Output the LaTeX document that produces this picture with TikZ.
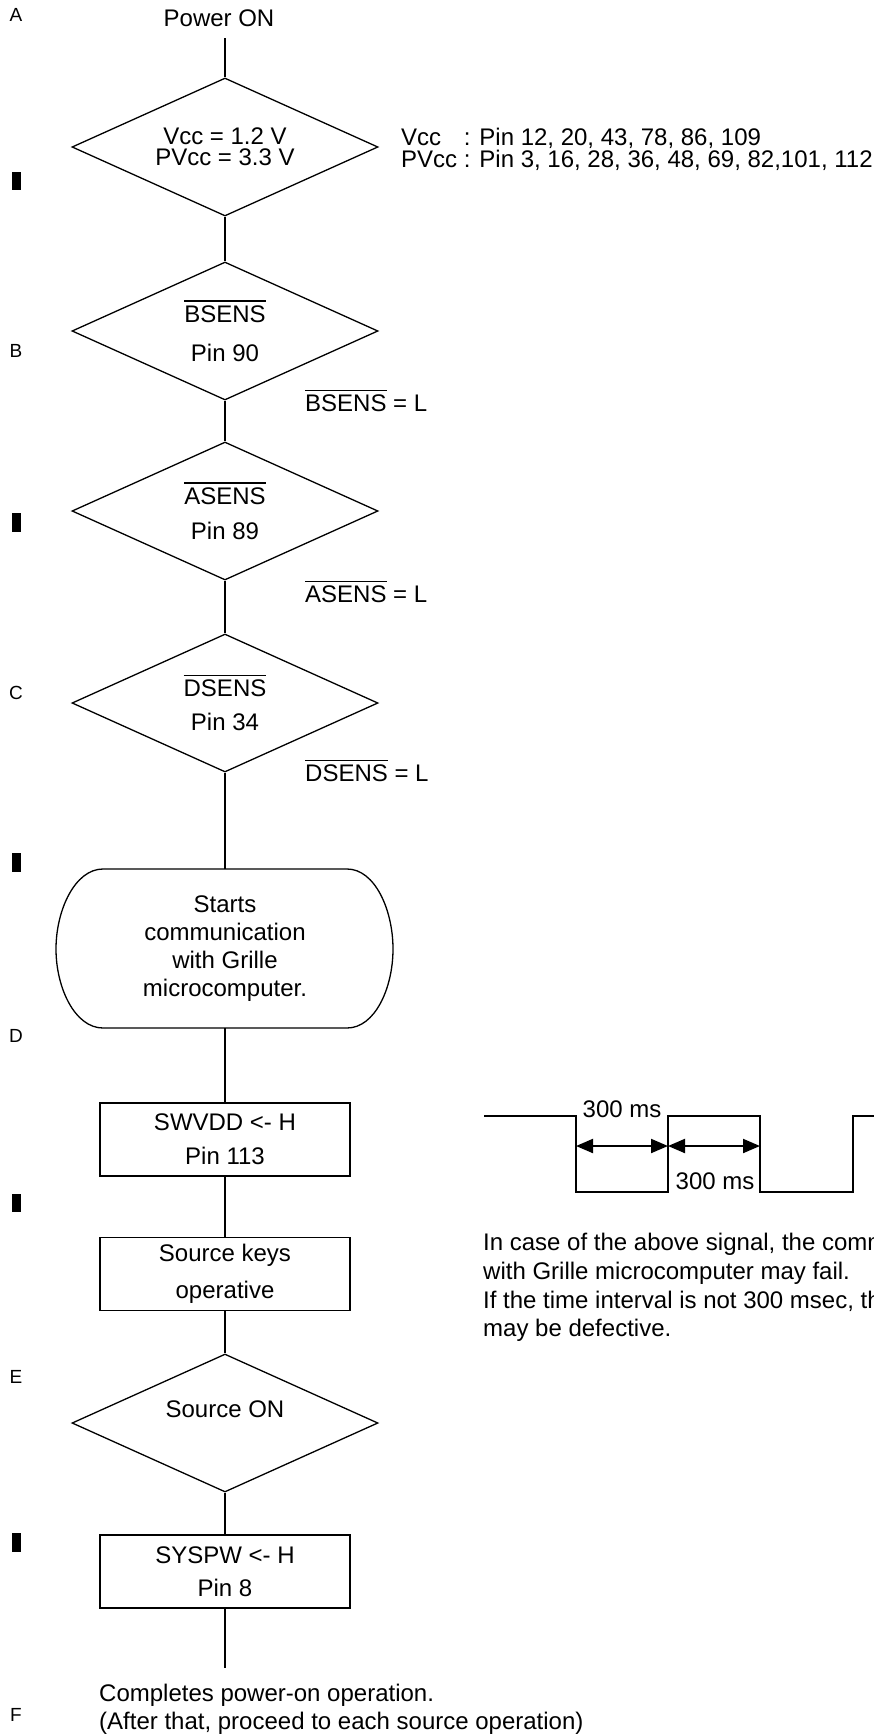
\documentclass[tikz,border=0pt]{standalone}
\usepackage{fontspec}
\setmainfont{Liberation Sans}
\usetikzlibrary{shapes.geometric}
\usetikzlibrary{arrows.meta}
\newcommand{\ovl}[1]{\leavevmode\vbox{\hrule height 1.2pt\kern 4pt\hbox{#1}}}
\newcommand{\txtsize}[1]{\fontsize{24}{#1}\selectfont}

\begin{document}
\begin{tikzpicture}[x=1pt,y=-1pt,
  flow/.style={line width=1.3pt},
  decide/.style={diamond, draw, line width=1.3pt, minimum width=306, minimum height=138, aspect=2.2, inner sep=0pt, align=center, font=\txtsize{21}},
  stepbox/.style={rectangle, draw, line width=1.3pt, minimum width=250, minimum height=73, inner sep=0pt, align=center, font=\txtsize{21}},
  txt/.style={inner sep=0pt, font=\txtsize{21}},
  margin/.style={inner sep=0pt, font=\fontsize{19}{22}\selectfont},
  wave/.style={line width=2.2pt},
  dim/.style={line width=2pt, {Triangle[length=17pt,width=14pt]}-{Triangle[length=17pt,width=14pt]}}]
\useasboundingbox (0,0) rectangle (874,1734);
% page margin marks
\node[margin] (ma) at (16,15) {A};
\node[margin] (mb) at (16,351) {B};
\node[margin] (mc) at (16,693) {C};
\node[margin] (md) at (16,1036) {D};
\node[margin] (me) at (16,1377) {E};
\node[margin] (mf) at (16,1715) {F};
\fill (12,172) rectangle (21,190);
\fill (12,513) rectangle (21,532);
\fill (12,853) rectangle (21,872);
\fill (12,1194) rectangle (21,1212);
\fill (12,1533) rectangle (21,1552);
% the flow
\node[txt, minimum height=40] (pwr) at (219,18) {Power ON};
\node[decide] (vcc) at (225,147) {Vcc = 1.2 V\\PVcc = 3.3 V};
\node[decide] (bsens) at (225,331) {\ovl{BSENS}\\[18pt]Pin 90};
\node[decide] (asens) at (225,511) {\ovl{ASENS}\\[14pt]Pin 89};
\node[decide] (dsens) at (225,703) {\ovl{DSENS}\\[13pt]Pin 34};
\node[txt, align=center, font=\txtsize{28}, minimum width=339, minimum height=159] (comm) at (225,948.5) {Starts\\communication\\with Grille\\microcomputer.};
\draw[flow] (103,869) -- (347,869) .. controls (375,869) and (393,910) .. (393,949) .. controls (393,988) and (375,1028) .. (347,1028) -- (103,1028) .. controls (75,1028) and (56,988) .. (56,949) .. controls (56,910) and (75,869) .. (103,869) -- cycle;
\node[stepbox] (swvdd) at (225,1139.5) {SWVDD <- H\\[13pt]Pin 113};
\node[stepbox] (keys) at (225,1274) {Source keys\\[14pt]operative};
\node[decide, text depth=28pt] (src) at (225,1423) {Source ON};
\node[stepbox] (syspw) at (225,1571.5) {SYSPW <- H\\[12pt]Pin 8};
\coordinate (fin) at (225,1668);
\draw[flow] (pwr.south -| vcc.north) -- (vcc);
\draw[flow] (vcc) -- (bsens);
\draw[flow] (bsens) -- (asens);
\draw[flow] (asens) -- (dsens);
\draw[flow] (dsens) -- (comm);
\draw[flow] (comm) -- (swvdd);
\draw[flow] (swvdd) -- (keys);
\draw[flow] (keys) -- (src);
\draw[flow] (src) -- (syspw);
\draw[flow] (syspw) -- (fin);
%     side texts
\node[txt, anchor=west, align=left, font=\txtsize{21.5}] (pins) at (401,149.5) {\rlap{Vcc}\phantom{PVcc} : Pin 12, 20, 43, 78, 86, 109\\PVcc : Pin 3, 16, 28, 36, 48, 69, 82,101, 112};
\node[txt, anchor=west] (bl) at (305,401) {\ovl{BSENS} = L};
\node[txt, anchor=west] (al) at (305,592) {\ovl{ASENS} = L};
\node[txt, anchor=west] (dl) at (305,771) {\ovl{DSENS} = L};
\node[txt, anchor=west, align=left, font=\txtsize{28}] (done) at (99,1709) {Completes power-on operation.\\(After that, proceed to each source operation)};
% The signal
\draw[wave] (484,1116) -- (576,1116) -- (576,1192) -- (668,1192) -- (668,1116) -- (760,1116) -- (760,1192) -- (853,1192) -- (853,1116) -- (874,1116);
\coordinate (t1) at (576,1146);
\coordinate (t2) at (668,1146);
\coordinate (t3) at (760,1146);
\draw[dim] (t1) -- (t2);
\draw[dim] (t2) -- (t3);
\node[txt] (ms1) at (622,1109) {300 ms};
\node[txt] (ms2) at (715,1181) {300 ms};
\begin{scope}
\clip (0,0) rectangle (874,1734);
\node[txt, anchor=west, align=left, font=\txtsize{28.7}] (note) at (483,1287.5) {In case of the above signal, the comm\\with Grille microcomputer may fail.\\If the time interval is not 300 msec, th\\may be defective.};
\end{scope}
\end{tikzpicture}
\end{document}
